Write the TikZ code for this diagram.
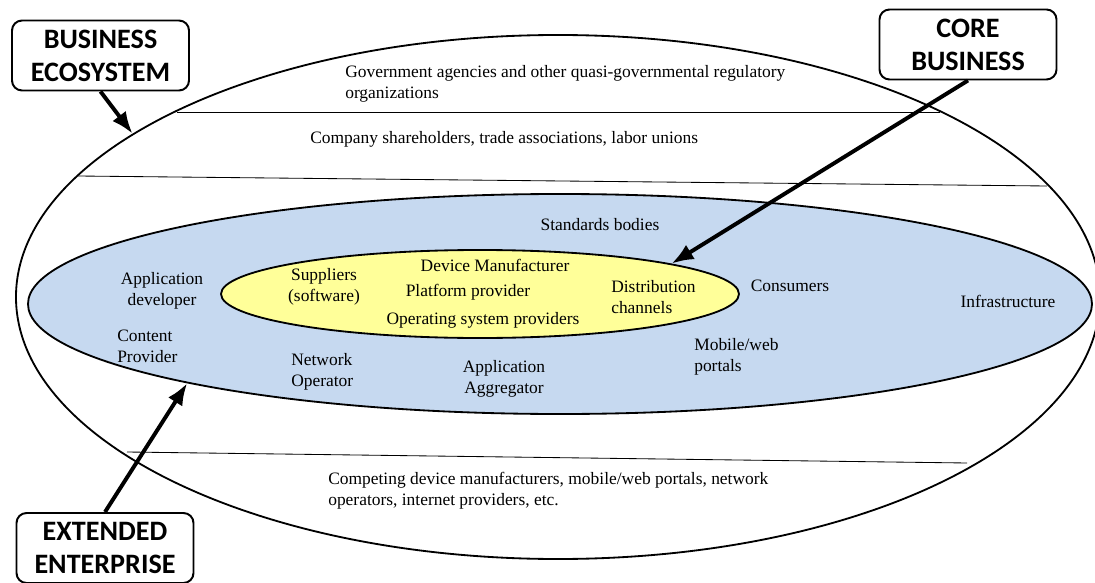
\documentclass[tikz,border=0pt]{standalone}
\usepackage{fontspec}
\setmainfont{Liberation Serif}
\newfontfamily\boxfont{Carlito}
\usetikzlibrary{shapes.geometric,arrows.meta}
\definecolor{ecoblue}{RGB}{198,217,240}
\definecolor{coreyellow}{RGB}{255,255,153}

\begin{document}
\begin{tikzpicture}[x=0.25mm,y=-0.25mm,
  ring/.style={draw,ellipse,line width=1.3pt,inner sep=0pt},
  txt/.style={inner sep=0pt,font=\fontsize{12.4}{15}\selectfont},
  bigbox/.style={draw,rounded corners=2.5mm,line width=1.4pt,minimum width=44.25mm,minimum height=17.5mm,align=center,font=\boxfont\bfseries\fontsize{20}{23.5}\selectfont},
  arr/.style={-{Latex[length=5.5mm,width=4.2mm]},line width=2.8pt}]
\useasboundingbox (0,0) rectangle (1095,583);
% outer ring and its bands
\node[ring,minimum width=271mm,minimum height=131mm] (eco) at (558,297) {};
\draw[line width=0.6pt] (177,112) -- (940,112);
\draw[line width=0.6pt] (78,176) -- (1047,186);
\draw[line width=0.6pt] (127,452) -- (967,463);
% extended enterprise and core
\node[ring,fill=ecoblue,minimum width=266mm,minimum height=55mm] (ext) at (560,304) {};
\node[ring,fill=coreyellow,minimum width=129.5mm,minimum height=22mm] (core) at (480,294) {};
% texts
\node[txt,anchor=west,align=left] (gov) at (345,84) {Government agencies and other quasi-governmental regulatory\\organizations};
\node[txt,anchor=west] (share) at (310,139) {Company shareholders, trade associations, labor unions};
\node[txt] (std) at (600,225) {Standards bodies};
\node[txt,align=center] (appdev) at (162,291) {Application\\developer};
\node[txt,anchor=west,align=left] (content) at (117,346) {Content\\Provider};
\node[txt,align=center] (supp) at (324,287) {Suppliers\\(software)};
\node[txt] (dev) at (495,265) {Device Manufacturer};
\node[txt] (plat) at (468,292) {Platform provider};
\node[txt] (os) at (483,320) {Operating system providers};
\node[txt,anchor=west,align=left] (dist) at (611,297) {Distribution\\channels};
\node[txt] (cons) at (790,286) {Consumers};
\node[txt] (infra) at (1008,301) {Infrastructure};
\node[txt,anchor=west,align=left] (mob) at (694,357) {Mobile/web\\portals};
\node[txt,anchor=west,align=left] (net) at (291,372) {Network\\Operator};
\node[txt,align=center] (agg) at (504,379) {Application\\Aggregator};
\node[txt,anchor=west,align=left] (comp) at (328,491) {Competing device manufacturers, mobile/web portals, network\\operators, internet providers, etc.};
% call-outs
\node[bigbox] (ecobox) at (100.5,55.5) {BUSINESS\\ECOSYSTEM};
\node[bigbox] (corebox) at (968,44.5) {CORE\\BUSINESS};
\node[bigbox] (extbox) at (105,548) {EXTENDED\\ENTERPRISE};
\draw[arr] (ecobox.south) -- (eco.159);
\draw[arr] (corebox.south) -- (core.9.5);
\draw[arr] (extbox.north) -- (ext.192.7);
\end{tikzpicture}
\end{document}
